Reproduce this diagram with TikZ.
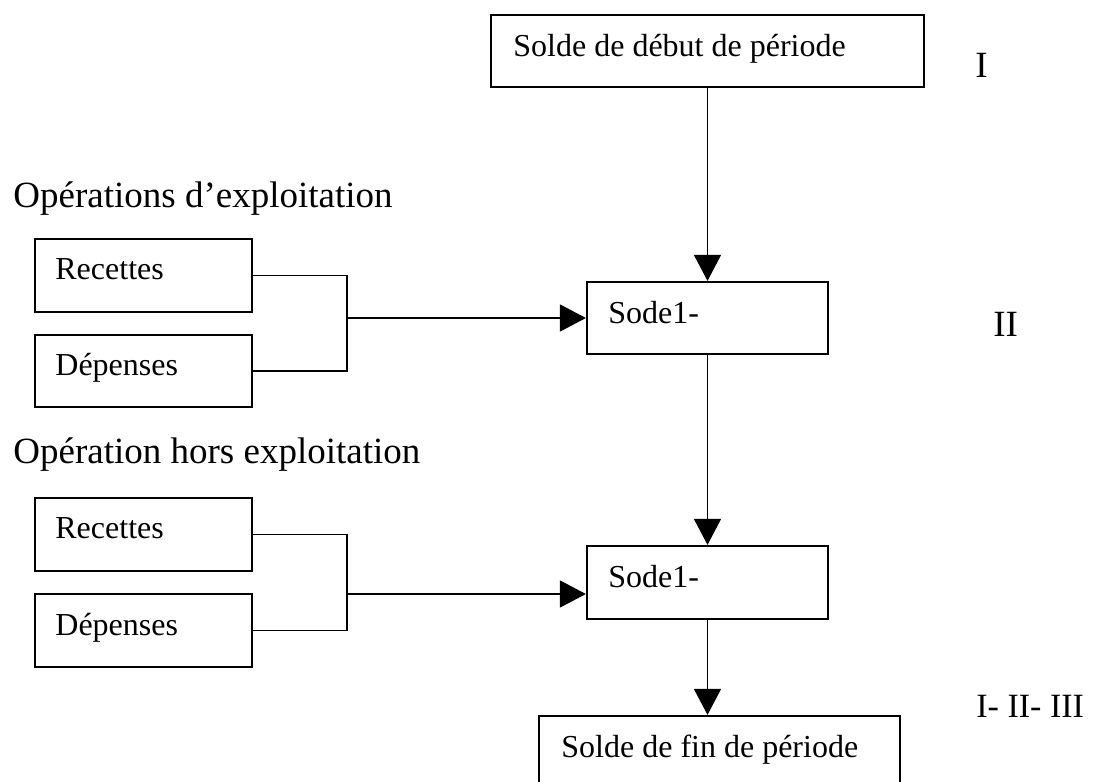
\documentclass[tikz,border=0pt]{standalone}
\usepackage{fontspec}
\setmainfont{Liberation Serif}
\usetikzlibrary{arrows.meta}
\tikzset{box/.style={draw=black,line width=1.1pt,inner sep=0pt},
  boxtext/.style={anchor=base west,inner sep=0pt,font=\fontsize{16pt}{19pt}\selectfont},
  headtext/.style={anchor=base west,inner sep=0pt,font=\fontsize{18.5pt}{22pt}\selectfont},
  link/.style={line width=0.65pt},
  arr/.style={link,-{Triangle[length=13pt,width=13.5pt]}}}

\begin{document}
\begin{tikzpicture}[x=0.5pt,y=-0.5pt]
\useasboundingbox (0,0) rectangle (1093,782);
% boxes
\node[box,minimum width=216.5pt,minimum height=36pt] (debut) at (707.5,51) {};
\node[box,minimum width=108.5pt,minimum height=36.5pt] (rec1) at (143.5,275.5) {}; \node[box,minimum width=108.5pt,minimum height=36pt] (dep1) at (143.5,371) {};
\node[box,minimum width=120.5pt,minimum height=36pt] (sode1) at (707.5,318) {};
\node[box,minimum width=108.5pt,minimum height=36.5pt] (rec2) at (143.5,534.5) {}; \node[box,minimum width=108.5pt,minimum height=36.5pt] (dep2) at (143.5,630.5) {};
\node[box,minimum width=120.5pt,minimum height=36.5pt] (sode2) at (707.5,582.5) {};
\node[box,minimum width=180.5pt,minimum height=36pt] (fin) at (719.5,752) {};
% texts
\node[boxtext] (debut-t) at (513,56) {Solde de début de période};
\node[boxtext] (rec1-t) at (55,279) {Recettes}; \node[boxtext] (dep1-t) at (55,375) {Dépenses};
\node[boxtext] (sode1-t) at (608,323) {Sode1-};
\node[boxtext] (rec2-t) at (55,538) {Recettes}; \node[boxtext] (dep2-t) at (55,635) {Dépenses};
\node[boxtext] (sode2-t) at (608,587) {Sode1-};
\node[boxtext] (fin-t) at (561,757) {Solde de fin de période};
\node[headtext] (expl) at (13,207) {Opérations d’exploitation};
\node[headtext] (hors) at (13,463) {Opération hors exploitation};
\node[headtext] (num1) at (975,77) {I}; \node[headtext] (num2) at (993,336) {II};
\node[boxtext,font=\fontsize{17pt}{20pt}\selectfont] (num3) at (976,717) {I- II- III};
% links
\coordinate (j1) at (347,318); \coordinate (j2) at (347,594);
\draw[link] (rec1.east) -| (j1) |- (dep1.east);
\draw[arr] (j1) -- (sode1.west);
\draw[link] (rec2.east) -| (j2) |- (dep2.east);
\draw[arr] (j2) -- (j2 -| sode2.west);
\draw[arr] (debut.south) -- (sode1.north);
\draw[arr] (sode1.south) -- (sode2.north);
\draw[arr] (sode2.south) -- (sode2.south |- fin.north);
\end{tikzpicture}
\end{document}
